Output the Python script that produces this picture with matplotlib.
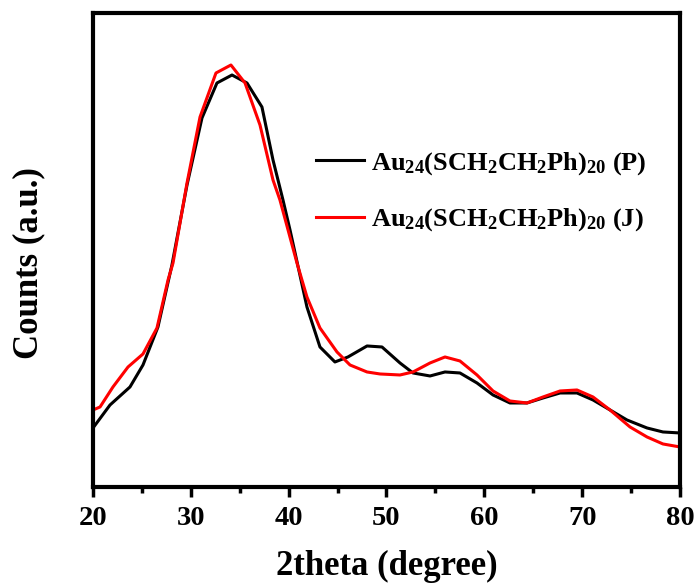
import matplotlib.pyplot as plt
from matplotlib.ticker import MultipleLocator

plt.rcParams['font.family'] = 'Liberation Serif'
plt.rcParams['font.weight'] = 'bold'
plt.rcParams['mathtext.fontset'] = 'custom'
plt.rcParams['mathtext.rm'] = 'Liberation Serif:bold'
plt.rcParams['mathtext.bf'] = 'Liberation Serif:bold'

# muestra P (negro)
theta_p = [20.0, 21.74, 23.78, 25.11, 26.64, 28.07, 29.61, 31.14, 32.67, 34.21,
           35.74, 37.27, 38.40, 39.42, 40.14, 41.87, 43.20, 44.73, 46.06, 48.01,
           49.54, 51.38, 52.71, 54.45, 55.98, 57.51, 59.25, 60.89, 62.62, 64.36,
           66.00, 67.74, 69.47, 71.11, 72.85, 74.58, 76.63, 78.26, 80.0]
counts_p = [59, 82, 100, 122, 160, 222, 302, 369, 404, 412,
            404, 380, 327, 287, 257, 180, 140, 125, 130, 141,
            140, 124, 114, 111, 115, 114, 104, 92, 84, 84,
            89, 94, 94, 87, 77, 67, 59, 55, 54]

# muestra J (rojo)
theta_j = [20.0, 20.72, 22.04, 23.58, 25.11, 26.54, 27.67, 28.18, 29.61, 30.94,
           32.57, 34.10, 35.54, 37.07, 38.40, 39.11, 40.85, 41.87, 43.20, 44.94,
           46.27, 48.01, 49.34, 51.38, 52.71, 54.45, 55.98, 57.51, 59.25, 60.89,
           62.62, 64.36, 66.00, 67.74, 69.47, 71.11, 72.85, 74.89, 76.63, 78.26, 80.0]
counts_j = [77, 80, 100, 120, 133, 159, 207, 224, 304, 370,
            414, 422, 404, 362, 307, 287, 224, 190, 159, 135,
            122, 115, 113, 112, 115, 124, 130, 126, 112, 96,
            86, 84, 90, 96, 97, 90, 77, 60, 50, 43, 40]

fig = plt.figure(figsize=(6.95, 5.86), dpi=100)
ax = fig.add_axes([0.1338, 0.169, 0.8446, 0.8088])

lbl = r'$\mathbf{Au_{24}(SCH_{2}CH_{2}Ph)_{20}}$'
ax.plot(theta_p, counts_p, color='black', lw=2.2, label=lbl + ' (P)')
ax.plot(theta_j, counts_j, color='#ff0000', lw=2.2, label=lbl + ' (J)')

ax.set_xlim(20, 80)
ax.set_ylim(0, 474)
ax.xaxis.set_major_locator(MultipleLocator(10))
ax.xaxis.set_minor_locator(MultipleLocator(5))
ax.set_yticks([])
ax.tick_params(axis='x', which='major', direction='out', length=7, width=2.5,
               labelsize=20.5, pad=7)
ax.tick_params(axis='x', which='minor', direction='out', length=4, width=2.5)
for s in ax.spines.values():
    s.set_linewidth(3)

ax.set_xlabel('2theta (degree)', fontsize=25, fontweight='bold', labelpad=13)
ax.set_ylabel('Counts (a.u.)', fontsize=25, fontweight='bold')
ax.yaxis.set_label_coords(-0.082, 0.473)

leg = ax.legend(loc='center left', bbox_to_anchor=(0.38, 0.623), frameon=False,
                fontsize=19, handlelength=1.8, handletextpad=0.3,
                labelspacing=1.12, borderpad=0, borderaxespad=0)

plt.savefig('out.png', dpi=100)
